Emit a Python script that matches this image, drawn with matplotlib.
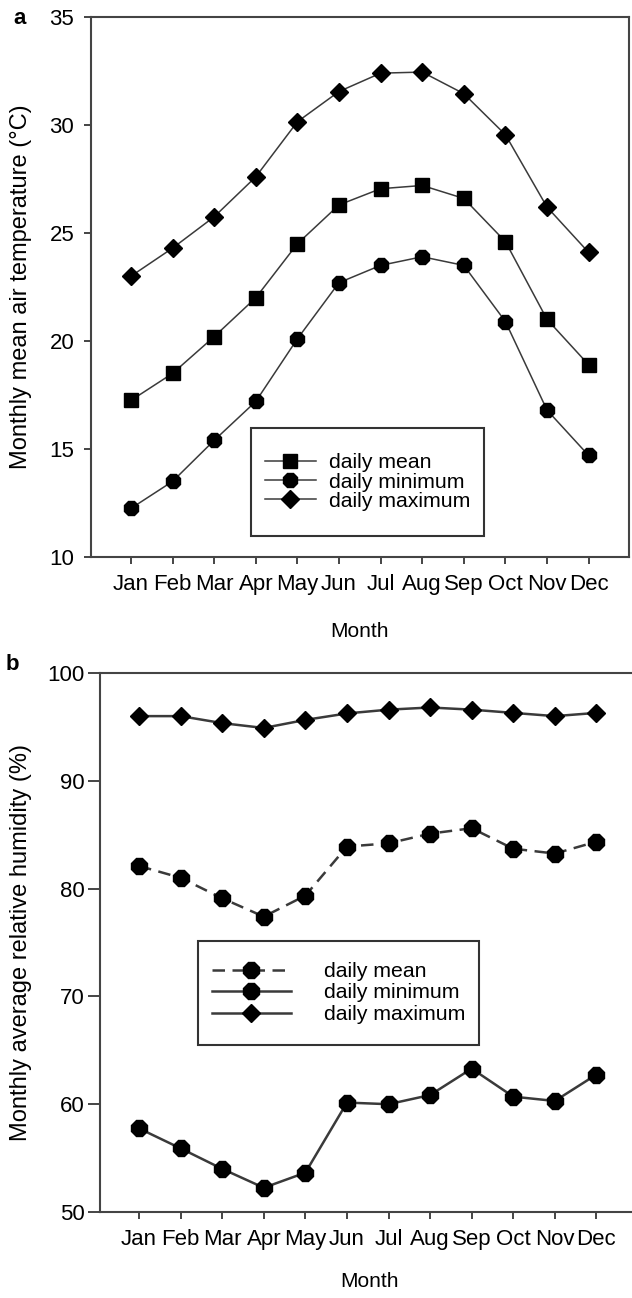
import matplotlib
matplotlib.use('Agg')
import matplotlib.pyplot as plt
from matplotlib.patches import Rectangle

plt.rcParams['font.family'] = ['Liberation Sans', 'DejaVu Sans']

months = ['Jan', 'Feb', 'Mar', 'Apr', 'May', 'Jun',
          'Jul', 'Aug', 'Sep', 'Oct', 'Nov', 'Dec']

# panel a - air temperature (deg C)
temp_mean = [17.25, 18.5, 20.2, 22.0, 24.5, 26.3, 27.05, 27.2, 26.6, 24.6, 21.0, 18.9]
temp_min = [12.25, 13.5, 15.4, 17.2, 20.1, 22.7, 23.5, 23.9, 23.5, 20.9, 16.8, 14.7]
temp_max = [23.0, 24.3, 25.75, 27.6, 30.15, 31.55, 32.4, 32.45, 31.45, 29.55, 26.2, 24.1]

# panel b - relative humidity (%)
rh_mean = [82.1, 81.0, 79.1, 77.4, 79.35, 83.9, 84.2, 85.1, 85.6, 83.7, 83.25, 84.35]
rh_min = [57.75, 55.9, 54.0, 52.25, 53.65, 60.15, 60.0, 60.85, 63.3, 60.7, 60.3, 62.75]
rh_max = [96.0, 96.0, 95.35, 94.9, 95.65, 96.25, 96.6, 96.8, 96.6, 96.3, 96.0, 96.3]

TICK_FS = 16
LABEL_FS = 17
LEG_FS = 15.3
LINE = '#3a3a3a'
SPINE = '#444444'
W, H = 632, 1298

fig = plt.figure(figsize=(W / 100, H / 100), dpi=100)
x = list(range(len(months)))


def style(ax, ylen, ypad, xlabelpad):
    for s in ax.spines.values():
        s.set_linewidth(1.5)
        s.set_color(SPINE)
    ax.set_xticks(x)
    ax.set_xticklabels(months)
    ax.tick_params(axis='x', direction='out', length=5, width=1.4, color=SPINE,
                   labelsize=TICK_FS, pad=7)
    ax.tick_params(axis='y', direction='out', length=ylen, width=1.4, color=SPINE,
                   labelsize=TICK_FS, pad=ypad)
    ax.set_xlabel('Month', fontsize=15, labelpad=xlabelpad)


def legend_box(ax, x0, y0, x1, y1, handlelength, textpad, spacing):
    leg = ax.legend(loc='center', bbox_to_anchor=((x0 + x1) / 2 / W, 1 - (y0 + y1) / 2 / H),
                    bbox_transform=fig.transFigure, frameon=False, fontsize=LEG_FS,
                    handlelength=handlelength, handletextpad=textpad,
                    labelspacing=spacing, borderpad=0, numpoints=1)
    fig.patches.append(Rectangle((x0 / W, 1 - y1 / H), (x1 - x0) / W, (y1 - y0) / H,
                                 transform=fig.transFigure, fill=False,
                                 edgecolor='#333333', linewidth=1.5, zorder=5))
    return leg


# ---- panel a ----
ax1 = fig.add_axes([91 / W, 1 - 557 / H, 538 / W, 540 / H])
ax1.plot(x, temp_mean, color=LINE, lw=1.1, marker='s', ms=10.5, mfc='black',
         mec='black', label='daily mean')
ax1.plot(x, temp_min, color=LINE, lw=1.1, marker='8', ms=11, mfc='black',
         mec='black', label='daily minimum')
ax1.plot(x, temp_max, color=LINE, lw=1.1, marker='D', ms=9.5, mfc='black',
         mec='black', label='daily maximum')
ax1.set_xlim(-0.96, 11.97)
ax1.set_ylim(10, 35)
ax1.set_yticks([10, 15, 20, 25, 30, 35])
style(ax1, 5, 7, 20)
ax1.set_ylabel('Monthly mean air temperature (°C)', fontsize=LABEL_FS)
ax1.yaxis.set_label_coords((32 - 91) / 538, 0.5)
legend_box(ax1, 251, 428, 484, 536, 2.4, 0.6, 0.02)
fig.text(20 / W, 1 - 19 / H, 'a', fontsize=16, fontweight='bold', ha='center', va='center')

# ---- panel b ----
ax2 = fig.add_axes([100 / W, 1 - 1212 / H, 538 / W, 539 / H])
ax2.plot(x, rh_mean, color=LINE, lw=1.8, ls=(0, (5, 3)), marker='8', ms=12,
         mfc='black', mec='black', label='daily mean')
ax2.plot(x, rh_min, color=LINE, lw=1.8, marker='8', ms=12, mfc='black',
         mec='black', label='daily minimum')
ax2.plot(x, rh_max, color=LINE, lw=1.8, marker='D', ms=9.5, mfc='black',
         mec='black', label='daily maximum')
ax2.set_xlim(-0.94, 12.0)
ax2.set_ylim(50, 100)
ax2.set_yticks([50, 60, 70, 80, 90, 100])
style(ax2, 9, 2, 16)
ax2.set_ylabel('Monthly average relative humidity (%)', fontsize=LABEL_FS)
ax2.yaxis.set_label_coords((32 - 100) / 538, 0.5)
legend_box(ax2, 198, 941, 479, 1045, 3.7, 1.55, 0.12)
fig.text(12 / W, 1 - 664 / H, 'b', fontsize=16, fontweight='bold', ha='center', va='center')

fig.savefig('out.png', dpi=100)
